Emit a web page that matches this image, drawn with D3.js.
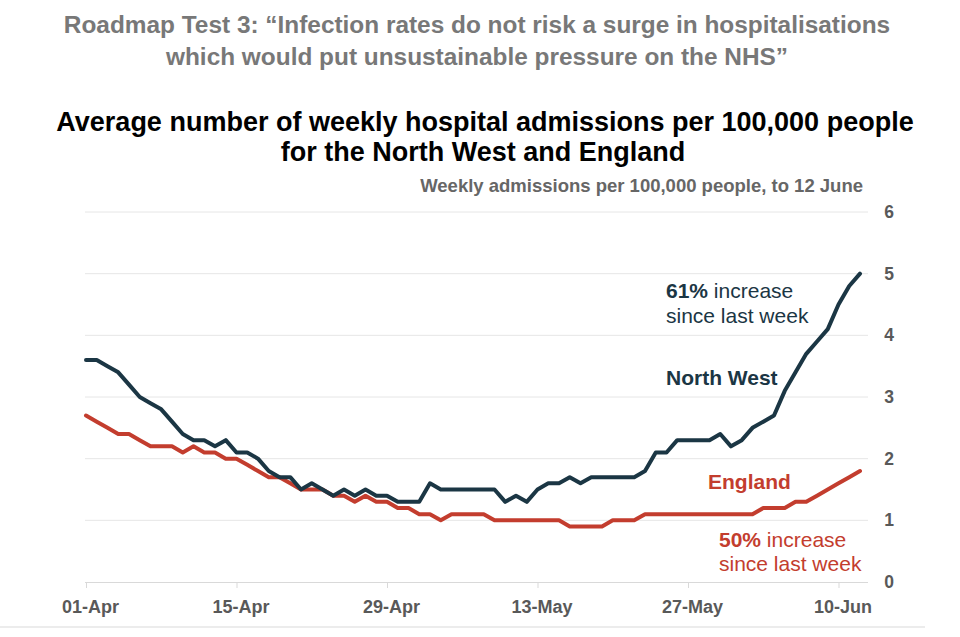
<!DOCTYPE html>
<html>
<head>
<meta charset="utf-8">
<script src="https://cdn.jsdelivr.net/npm/d3@7"></script>
<style>
  html, body { margin: 0; padding: 0; background: #ffffff; }
  svg { display: block; font-family: "Liberation Sans", Arial, Helvetica, sans-serif; }
</style>
</head>
<body>
<svg id="chart" width="960" height="637"></svg>
<script>
// ---- Data ----
const startDate = "2021-04-01";
const northWest = [
  3.6, 3.6, 3.5, 3.4, 3.2, 3.0, 2.9, 2.8, 2.6, 2.4,
  2.3, 2.3, 2.2, 2.3, 2.1, 2.1, 2.0, 1.8, 1.7, 1.7,
  1.5, 1.6, 1.5, 1.4, 1.5, 1.4, 1.5, 1.4, 1.4, 1.3,
  1.3, 1.3, 1.6, 1.5, 1.5, 1.5, 1.5, 1.5, 1.5, 1.3,
  1.4, 1.3, 1.5, 1.6, 1.6, 1.7, 1.6, 1.7, 1.7, 1.7,
  1.7, 1.7, 1.8, 2.1, 2.1, 2.3, 2.3, 2.3, 2.3, 2.4,
  2.2, 2.3, 2.5, 2.6, 2.7, 3.1, 3.4, 3.7, 3.9, 4.1,
  4.5, 4.8, 5.0
];
const england = [
  2.7, 2.6, 2.5, 2.4, 2.4, 2.3, 2.2, 2.2, 2.2, 2.1,
  2.2, 2.1, 2.1, 2.0, 2.0, 1.9, 1.8, 1.7, 1.7, 1.6,
  1.5, 1.5, 1.5, 1.4, 1.4, 1.3, 1.4, 1.3, 1.3, 1.2,
  1.2, 1.1, 1.1, 1.0, 1.1, 1.1, 1.1, 1.1, 1.0, 1.0,
  1.0, 1.0, 1.0, 1.0, 1.0, 0.9, 0.9, 0.9, 0.9, 1.0,
  1.0, 1.0, 1.1, 1.1, 1.1, 1.1, 1.1, 1.1, 1.1, 1.1,
  1.1, 1.1, 1.1, 1.2, 1.2, 1.2, 1.3, 1.3, 1.4, 1.5,
  1.6, 1.7, 1.8
];
const xTickDates = ["2021-04-01", "2021-04-15", "2021-04-29", "2021-05-13", "2021-05-27", "2021-06-10"];
const xTickLabels = ["01-Apr", "15-Apr", "29-Apr", "13-May", "27-May", "10-Jun"];
const yTicks = [0, 1, 2, 3, 4, 5, 6];

// ---- Setup ----
const parse = d3.utcParse("%Y-%m-%d");
const day0 = parse(startDate);
const dates = northWest.map((_, i) => d3.utcDay.offset(day0, i));

const svg = d3.select("#chart");
const NAVY = "#1b3644";
const RED = "#c33d2e";
const GREY = "#595959";

const x = d3.scaleUtc()
  .domain([dates[0], dates[dates.length - 1]])
  .range([86, 860]);
const y = d3.scaleLinear().domain([0, 6]).range([582, 212]);

// ---- Titles ----
const t1 = svg.append("text").attr("text-anchor", "middle")
  .attr("font-size", 24.4).attr("font-weight", "bold").attr("fill", "#787878");
t1.append("tspan").attr("x", 477).attr("y", 33)
  .text("Roadmap Test 3: \u201CInfection rates do not risk a surge in hospitalisations");
t1.append("tspan").attr("x", 477).attr("y", 65)
  .text("which would put unsustainable pressure on the NHS\u201D");

const t2 = svg.append("text").attr("text-anchor", "middle")
  .attr("font-size", 27).attr("font-weight", "bold").attr("fill", "#000000");
t2.append("tspan").attr("x", 485).attr("y", 131)
  .text("Average number of weekly hospital admissions per 100,000 people");
t2.append("tspan").attr("x", 483).attr("y", 161)
  .text("for the North West and England");

svg.append("text").attr("text-anchor", "end")
  .attr("x", 863).attr("y", 192)
  .attr("font-size", 18.5).attr("font-weight", "bold").attr("fill", "#666666")
  .text("Weekly admissions per 100,000 people, to 12 June");

// ---- Gridlines ----
svg.append("g").selectAll("line")
  .data(yTicks.filter(d => d > 0))
  .join("line")
  .attr("x1", 85).attr("x2", 868)
  .attr("y1", d => y(d)).attr("y2", d => y(d))
  .attr("stroke", "#e6e6e6").attr("stroke-width", 1);

// ---- Y axis (right) ----
const yAxis = d3.axisRight(y).tickValues(yTicks).tickSize(0).tickPadding(0)
  .tickFormat(d3.format("d"));
const gy = svg.append("g").attr("transform", "translate(889,0)").call(yAxis);
gy.select(".domain").remove();
gy.selectAll("text")
  .attr("text-anchor", "middle")
  .attr("font-size", 17.5).attr("font-weight", "bold").attr("fill", GREY)
  .attr("font-family", "'Liberation Sans', Arial, sans-serif");

// ---- X axis ----
const xAxis = d3.axisBottom(x)
  .tickValues(xTickDates.map(parse))
  .tickSize(6)
  .tickPadding(12)
  .tickFormat((d, i) => xTickLabels[i]);
const gx = svg.append("g").attr("transform", "translate(0,582)").call(xAxis);
gx.select(".domain").attr("d", "M85,0.5H868").attr("stroke", "#d9d9d9");
gx.selectAll(".tick line").attr("stroke", "#d9d9d9");
gx.selectAll(".tick text")
  .attr("dx", 4)
  .attr("font-size", 18).attr("font-weight", "bold").attr("fill", GREY)
  .attr("font-family", "'Liberation Sans', Arial, sans-serif");

// bottom rule
svg.append("line").attr("x1", 0).attr("x2", 925).attr("y1", 627).attr("y2", 627)
  .attr("stroke", "#d9d9d9").attr("stroke-width", 1);

// ---- Lines ----
const line = d3.line()
  .x((d, i) => x(dates[i]))
  .y(d => y(d));

svg.append("path").datum(england)
  .attr("d", line).attr("fill", "none")
  .attr("stroke", RED).attr("stroke-width", 4)
  .attr("stroke-linejoin", "round").attr("stroke-linecap", "round");

svg.append("path").datum(northWest)
  .attr("d", line).attr("fill", "none")
  .attr("stroke", NAVY).attr("stroke-width", 4)
  .attr("stroke-linejoin", "round").attr("stroke-linecap", "round");

// ---- Annotations ----
const a1 = svg.append("text").attr("font-size", 21).attr("fill", NAVY);
const a1l1 = a1.append("tspan").attr("x", 666).attr("y", 298);
a1l1.append("tspan").attr("font-weight", "bold").text("61%");
a1l1.append("tspan").text(" increase");
a1.append("tspan").attr("x", 666).attr("y", 323).text("since last week");

svg.append("text").attr("x", 666).attr("y", 385)
  .attr("font-size", 21).attr("font-weight", "bold").attr("fill", NAVY)
  .text("North West");

svg.append("text").attr("x", 708).attr("y", 489)
  .attr("font-size", 21).attr("font-weight", "bold").attr("fill", RED)
  .text("England");

const a2 = svg.append("text").attr("font-size", 21).attr("fill", RED);
const a2l1 = a2.append("tspan").attr("x", 719).attr("y", 547);
a2l1.append("tspan").attr("font-weight", "bold").text("50%");
a2l1.append("tspan").text(" increase");
a2.append("tspan").attr("x", 719).attr("y", 571).text("since last week");
</script>
</body>
</html>
